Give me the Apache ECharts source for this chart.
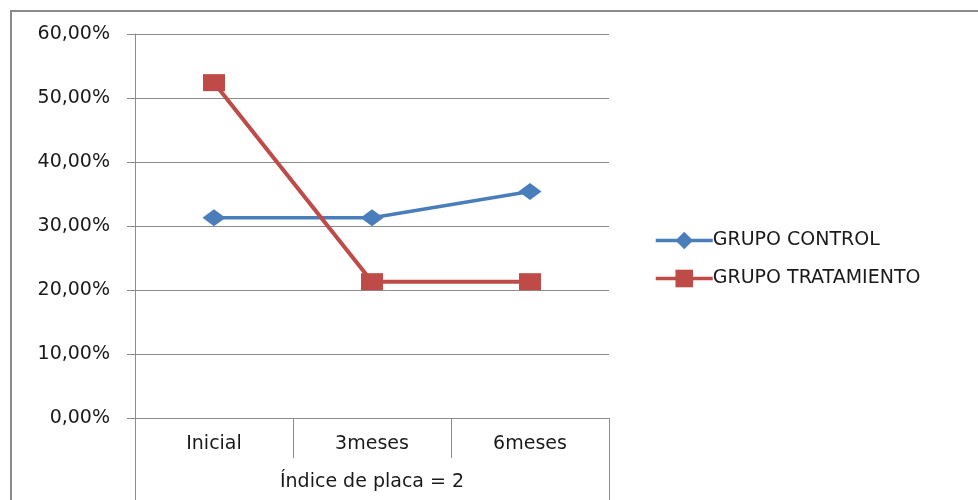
<!DOCTYPE html>
<html>
<head>
<meta charset="utf-8">
<script src="https://cdn.jsdelivr.net/npm/echarts@6/dist/echarts.min.js"></script>
<style>
  html, body { margin: 0; padding: 0; background: #fff; }
  #chart { width: 978px; height: 500px; }
</style>
</head>
<body>
<div id="chart"></div>
<script>
// Periods on the category axis and the group label underneath them
const categories = ['Inicial', '3meses', '6meses'];
const groupLabel = ['Índice de placa = 2'];

// Share of patients (fraction) per period
const grupoControl = [0.313, 0.313, 0.354];
const grupoTratamiento = [0.524, 0.213, 0.213];

const seriesNames = ['GRUPO CONTROL', 'GRUPO TRATAMIENTO'];

const FONT = 'DejaVu Sans';
const TEXT = '#1a1a1a';
const GRID_GRAY = '#8c8c8c';
const BLUE = '#4a7ebb';
const RED = '#be4b48';

const chart = echarts.init(document.getElementById('chart'));

chart.setOption({
  animation: false,
  backgroundColor: '#fff',
  textStyle: { fontFamily: FONT, color: TEXT },
  graphic: [{
    type: 'rect',
    shape: { x: 11, y: 11, width: 1100, height: 700 },
    style: { fill: 'none', stroke: '#8a8a8a', lineWidth: 2 },
    silent: true
  }],
  grid: { left: 135, right: 369, top: 34, bottom: 82 },
  legend: {
    orient: 'vertical',
    left: 649,
    top: 226,
    itemWidth: 57,
    itemHeight: 22,
    itemGap: 19,
    lineStyle: { width: 3.5 },
    textStyle: { fontFamily: FONT, fontSize: 19, color: TEXT, padding: [0, 0, 0, -5] },
    data: seriesNames
  },
  xAxis: [{
    type: 'category',
    data: categories,
    boundaryGap: true,
    position: 'bottom',
    axisLine: { show: true, lineStyle: { color: GRID_GRAY, width: 1 } },
    axisTick: { show: true, length: 40, lineStyle: { color: GRID_GRAY, width: 1 } },
    axisLabel: { fontFamily: FONT, fontSize: 19, color: TEXT, margin: 17 },
    splitLine: { show: false }
  }, {
    type: 'category',
    data: groupLabel,
    boundaryGap: true,
    position: 'bottom',
    axisLine: { show: false },
    axisTick: { show: true, length: 82, lineStyle: { color: GRID_GRAY, width: 1 } },
    axisLabel: { fontFamily: FONT, fontSize: 19, color: TEXT, margin: 55 },
    splitLine: { show: false }
  }],
  yAxis: {
    type: 'value',
    min: 0,
    max: 0.6,
    interval: 0.1,
    axisLine: { show: true, lineStyle: { color: GRID_GRAY, width: 1 } },
    axisTick: { show: true, length: 8, lineStyle: { color: GRID_GRAY, width: 1 } },
    axisLabel: {
      fontFamily: FONT, fontSize: 19, color: TEXT, margin: 25,
      formatter: v => (v * 100).toFixed(2).replace('.', ',') + '%'
    },
    splitLine: { show: true, lineStyle: { color: GRID_GRAY, width: 1 } }
  },
  series: [{
    name: seriesNames[0],
    type: 'line',
    xAxisIndex: 0,
    data: grupoControl,
    symbol: 'diamond',
    symbolSize: [23, 17],
    showAllSymbol: true,
    color: BLUE,
    lineStyle: { width: 3.5, color: BLUE },
    itemStyle: { color: BLUE }
  }, {
    name: seriesNames[1],
    type: 'line',
    xAxisIndex: 0,
    data: grupoTratamiento,
    symbol: 'rect',
    symbolSize: [22, 17],
    showAllSymbol: true,
    color: RED,
    lineStyle: { width: 4, color: RED },
    itemStyle: { color: RED }
  }]
});
</script>
</body>
</html>
